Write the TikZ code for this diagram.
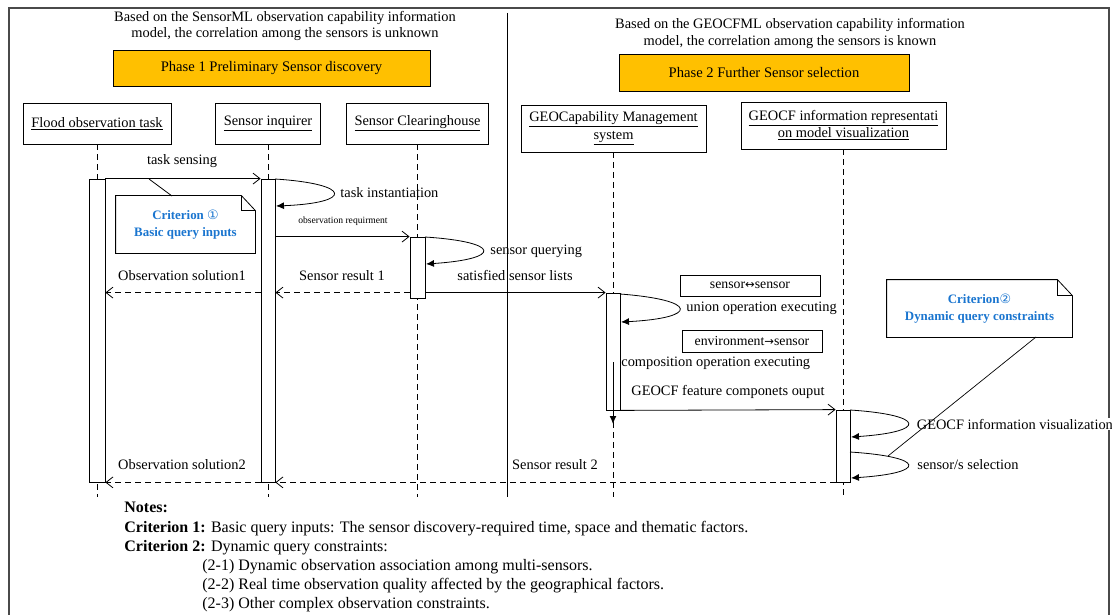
\documentclass[tikz,border=0pt]{standalone}
\usepackage{fontspec}
\setmainfont{Liberation Serif}
\newfontfamily\dejavu{DejaVu Sans}
\usetikzlibrary{arrows.meta}
\definecolor{phaseor}{HTML}{FFC000}
\definecolor{critblue}{HTML}{1A75CF}
\definecolor{framegray}{HTML}{4A4A4A}
\newcommand{\arw}[1]{{\dejavu\fontsize{11.5}{13}\selectfont #1}}
\tikzset{
  base/.style={font=\fontsize{14.4}{16}\selectfont},
  lbl/.style={base, inner sep=0pt},
  small/.style={font=\fontsize{9.6}{11}\selectfont, inner sep=0pt},
  objbox/.style={draw, fill=white, base, align=center, inner sep=2pt},
  phasebox/.style={draw, fill=phaseor, font=\fontsize{14.6}{16}\selectfont, inner sep=0pt},
  opbox/.style={draw, font=\fontsize{13.8}{15}\selectfont, inner sep=0pt},
  act/.style={draw, fill=white, minimum width=14, inner sep=0pt},
  life/.style={dash pattern=on 6pt off 4pt, line width=0.7pt},
  msgarrow/.style={-{Straight Barb[length=7pt,width=11pt,line width=0.8pt]}},
  retarrow/.style={msgarrow, dash pattern=on 6pt off 4pt},
  selfcall/.style={-{Latex[length=8pt,width=7pt]}},
  notetext/.style={font=\bfseries\fontsize{12.9}{16}\selectfont, text=critblue, align=center, inner sep=0pt},
  notelines/.style={font=\fontsize{16}{19.2}\selectfont, align=left, inner sep=0pt, anchor=north west},
}
\begin{document}
\begin{tikzpicture}[x=1pt,y=-1pt,line width=0.8pt]
\useasboundingbox (0,0) rectangle (1112,615);

% frame and divider
\coordinate (ftl) at (9,8);
\coordinate (ftr) at (1109,8);
\coordinate (fbl) at (9,615);
\coordinate (fbr) at (1109,615);
\draw[framegray, line width=1.4pt] (fbl) -- (ftl) -- (ftr) -- (fbr);
\coordinate (dtop) at (507,13);
\coordinate (dbot) at (507,497);
\draw (dtop) -- (dbot);

% top titles
\node[lbl, align=center, font=\fontsize{14.4}{16}\selectfont] (t1) at (285,26) {Based on the SensorML observation capability information\\model, the correlation among the sensors is unknown};
\node[lbl, align=center, font=\fontsize{14.4}{17}\selectfont] (t2) at (790,33.5) {Based on the GEOCFML observation capability information\\model, the correlation among the sensors is known};
\node[phasebox, minimum width=317, minimum height=36] (ph1) at (271.5,68) {Phase 1 Preliminary Sensor discovery};
\node[phasebox, minimum width=290, minimum height=37] (ph2) at (764,72.5) {Phase 2 Further Sensor selection};

% objects
\node[objbox, minimum width=148, minimum height=41] (flood) at (97,123.5) {\underline{Flood observation task}};
\node[objbox, minimum width=105, minimum height=41] (inq) at (268,123.5) {\underline{Sensor inquirer}};
\node[objbox, minimum width=142, minimum height=41] (clr) at (417.5,123.5) {\underline{Sensor Clearinghouse}};
\node[objbox, minimum width=185, minimum height=47, font=\fontsize{14.4}{18}\selectfont] (gcm) at (613.5,128.5) {\underline{GEOCapability Management}\\\underline{system}};
\node[objbox, minimum width=205, minimum height=47, font=\fontsize{14.4}{17}\selectfont] (gvis) at (843.5,125.5) {\underline{GEOCF information representati}\\\underline{on model visualization}};

% lifelines
\coordinate (lb) at (0,497);
\draw[life] (flood.south) -- (flood.south |- lb);
\draw[life] (inq.south) -- (inq.south |- lb);
\draw[life] (clr.south) -- (clr.south |- lb);
\draw[life] (gcm.south) -- (gcm.south |- lb);
\draw[life] (gvis.south) -- (gvis.south |- lb);

% activations
\node[act, minimum width=16, minimum height=303] (aF) at (97,330.5) {};
\node[act, minimum height=303] (aI) at (268,330.5) {};
\node[act, minimum width=15, minimum height=61] (aC) at (417.5,267.5) {};
\node[act, minimum height=117] (aG) at (613,351.5) {};
\node[act, minimum height=72] (aV) at (843,446) {};

% task sensing
\draw[msgarrow] (aF.north east) -- (aI.north west);
\node[lbl] (l1) at (182,161) {task sensing};

% task instantiation
\coordinate (ti1) at (275,179);
\coordinate (ti2) at (276,206);
\draw[selfcall] (ti1) .. controls (353,184) and (353,203) .. (ti2);
\node[lbl, anchor=west] (l2) at (340,193) {task instantiation};

% observation requirement
\draw[msgarrow] (aI.east |- aC.north) -- (aC.north west);
\node[small] (l3) at (343,221) {observation requirment};

% sensor querying
\coordinate (sq1) at (425,237);
\coordinate (sq2) at (426,264);
\draw[selfcall] (sq1) .. controls (502,242) and (502,259) .. (sq2);
\node[lbl, anchor=west] (l4) at (490,251) {sensor querying};

% satisfied sensor lists
\draw[msgarrow] (aC.east |- aG.north) -- (aG.north west);
\node[lbl] (l5) at (515,276) {satisfied sensor lists};

% returns 1
\draw[retarrow] (aC.west |- aG.north) -- (aI.east |- aG.north);
\node[lbl] (l6) at (342,276) {Sensor result 1};
\draw[retarrow] (aI.west |- aG.north) -- (aF.east |- aG.north);
\node[lbl] (l7) at (182,276) {Observation solution1};

% union operation
\node[opbox, minimum width=140, minimum height=21] (b1) at (750,285.5) {sensor\arw{↔}sensor};
\coordinate (u1) at (620,294);
\coordinate (u2) at (621,322);
\draw[selfcall] (u1) .. controls (699,300) and (699,318) .. (u2);
\node[lbl, anchor=west] (l8) at (686,308) {union operation executing};

% composition
\node[opbox, minimum width=140, minimum height=22] (b2) at (752,341) {environment\arw{→}sensor};
\node[lbl, anchor=west] (l9) at (621,363) {composition operation executing};
\coordinate (c1) at (613,362);
\coordinate (c2) at (613,424);
\draw[selfcall, line width=1pt] (c1) -- (c2);

% GEOCF feature output
\draw[msgarrow] (aG.south east) -- (aV.north west);
\node[lbl, anchor=west] (l10) at (631,392) {GEOCF feature componets ouput};

% GEOCF information visualization
\coordinate (v1) at (850,410);
\coordinate (v2) at (851,437);
\draw[selfcall] (v1) .. controls (927,415) and (927,432) .. (v2);
\node[lbl, anchor=west, fill=white, inner sep=0.5pt] (l11) at (916,424) {GEOCF information visualization};

% sensor/s selection
\coordinate (s1) at (850,452);
\coordinate (s2) at (851,478);
\draw[selfcall] (s1) .. controls (927,457) and (927,473) .. (s2);
\node[lbl, anchor=west] (l12) at (917,465) {sensor/s selection};

% returns 2
\draw[retarrow] (aV.south west) -- (aI.south east);
\node[lbl] (l13) at (555,465) {Sensor result 2};
\draw[retarrow] (aI.south west) -- (aF.south east);
\node[lbl] (l14) at (182,465) {Observation solution2};

% note 1
\node[notetext, minimum width=139, minimum height=57] (n1) at (185.5,224.5) {Criterion {\dejavu\mdseries ①}\\[1pt]Basic query inputs};
\draw (n1.south west) -- (n1.north west) -- ([xshift=-14pt]n1.north east) -- ([yshift=-15pt]n1.north east) -- (n1.south east) -- cycle;
\draw ([xshift=-14pt]n1.north east) -- ([xshift=-14pt,yshift=-15pt]n1.north east) -- ([yshift=-15pt]n1.north east);
\coordinate (n1a) at (172,196);
\coordinate (n1b) at (149,179);
\draw (n1a) -- (n1b);

% note 2
\node[notetext, minimum width=185, minimum height=57] (n2) at (979.5,308.5) {Criterion{\dejavu\mdseries ②}\\[1pt]Dynamic query constraints};
\draw (n2.south west) -- (n2.north west) -- ([xshift=-15pt]n2.north east) -- ([yshift=-16pt]n2.north east) -- (n2.south east) -- cycle;
\draw ([xshift=-15pt]n2.north east) -- ([xshift=-15pt,yshift=-16pt]n2.north east) -- ([yshift=-16pt]n2.north east);
\coordinate (n2a) at (1036,337);
\coordinate (n2b) at (888,456);
\draw[line width=0.7pt] (n2a) -- (n2b);

% notes block
\node[notelines] (notes) at (124,502) {\textbf{Notes:}\\
\textbf{Criterion 1:} Basic query inputs: The sensor discovery-required time, space and thematic factors.\\
\textbf{Criterion 2:} Dynamic query constraints:\\
\hspace*{78pt}(2-1) Dynamic observation association among multi-sensors.\\
\hspace*{78pt}(2-2) Real time observation quality affected by the geographical factors.\\
\hspace*{78pt}(2-3) Other complex observation constraints.};
\end{tikzpicture}
\end{document}
